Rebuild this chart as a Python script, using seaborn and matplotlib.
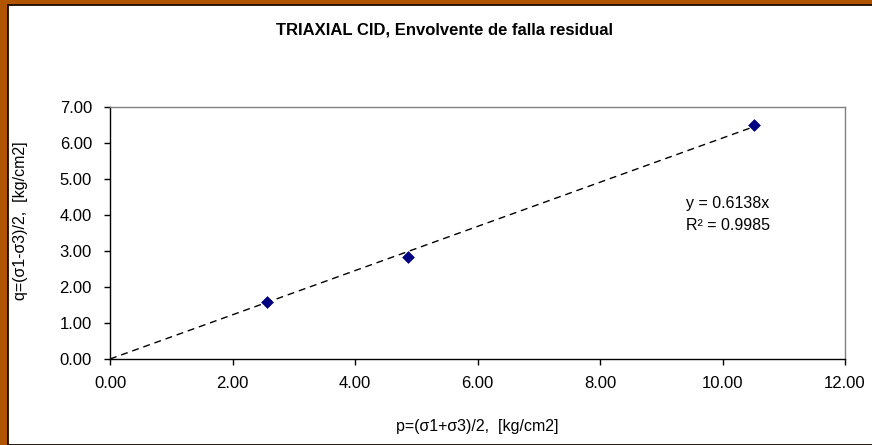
import matplotlib
matplotlib.use('Agg')
import matplotlib.pyplot as plt
from matplotlib.patches import Rectangle
from matplotlib.ticker import FormatStrFormatter, MultipleLocator
import seaborn as sns
import numpy as np
import pandas as pd

# valeurs
p_vals = [2.57, 4.86, 10.52]
q_vals = [1.58, 2.84, 6.50]
pente = 0.6138
r2 = 0.9985

sns.set_style('ticks')
plt.rcParams['font.family'] = ['Liberation Sans', 'DejaVu Sans']
plt.rcParams['text.color'] = 'black'

fig = plt.figure(figsize=(8.72, 4.45), dpi=100)
fig.patch.set_facecolor('#B05400')
# panneau blanc du graphique (style Excel)
fond = Rectangle((8 / 872, 0), 1, 1 - 5 / 445, transform=fig.transFigure,
                 facecolor='white', edgecolor='#1a0a00', linewidth=1.3, zorder=-10)
fig.patches.append(fond)

ax = fig.add_axes([110 / 872, 1 - 359 / 445, (845 - 110) / 872, (359 - 107) / 445])
ax.set_zorder(2)
ax.set_facecolor('white')

# ligne de tendance y = pente * x
x_fit = np.array([0, max(p_vals)])
df_fit = pd.DataFrame({'p': x_fit, 'q': pente * x_fit})
sns.lineplot(data=df_fit, x='p', y='q', ax=ax, color='black', linewidth=1,
             linestyle=(0, (5, 3.5)))

df = pd.DataFrame({'p': p_vals, 'q': q_vals})
sns.scatterplot(data=df, x='p', y='q', ax=ax, marker='D', color='#000080',
                s=36, edgecolor='#000080', zorder=5)

ax.set_xlim(0, 12)
ax.set_ylim(0, 7)
ax.xaxis.set_major_locator(MultipleLocator(2))
ax.yaxis.set_major_locator(MultipleLocator(1))
ax.xaxis.set_major_formatter(FormatStrFormatter('%.2f'))
ax.yaxis.set_major_formatter(FormatStrFormatter('%.2f'))
ax.tick_params(axis='both', direction='out', length=4, width=1, colors='black',
               labelsize=12)
ax.tick_params(axis='x', pad=8)
ax.tick_params(axis='y', pad=9)
for side in ['left', 'bottom']:
    ax.spines[side].set_color('black')
    ax.spines[side].set_linewidth(1)
for side in ['top', 'right']:
    ax.spines[side].set_visible(True)
    ax.spines[side].set_color('#808080')
    ax.spines[side].set_linewidth(1)

ax.set_xlabel('')
ax.set_ylabel('')
fig.text(477 / 872, 1 - 427 / 445, 'p=(σ1+σ3)/2,  [kg/cm2]', ha='center', va='center',
         fontsize=11.5, color='black')
fig.text(20 / 872, 1 - 221 / 445, 'q=(σ1-σ3)/2,  [kg/cm2]', ha='center', va='center',
         rotation=90, fontsize=11.5, color='black')
fig.text(444 / 872, 1 - 30 / 445, 'TRIAXIAL CID, Envolvente de falla residual',
         ha='center', va='center', fontsize=12, fontweight='bold', color='black')

ax.text(10.09, 4.33, f'y = {pente}x', ha='center', va='center', fontsize=11.5, color='black')
ax.text(10.09, 3.72, f'R² = {r2}', ha='center', va='center', fontsize=11.5, color='black')

fig.savefig('out.png', dpi=100, facecolor=fig.get_facecolor())
